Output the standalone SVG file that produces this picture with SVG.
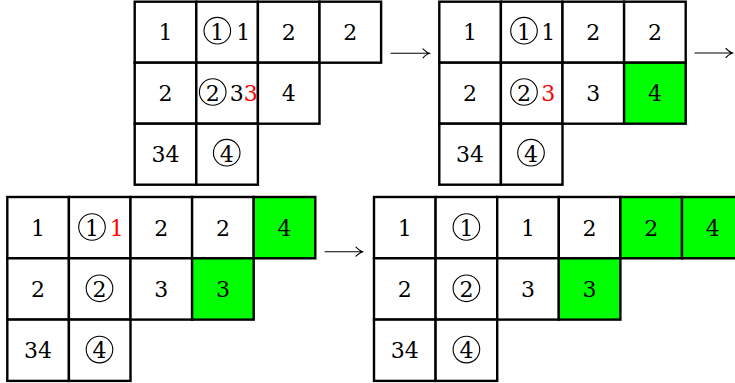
<svg xmlns="http://www.w3.org/2000/svg" width="735" height="383" viewBox="0 0 735 383">
<style>
.c{fill:#fff;stroke:#000;stroke-width:2.4}
.g{fill:#00ff00;stroke:#000;stroke-width:2.4}
.r{fill:#ff0000}
.o{fill:none;stroke:#000;stroke-width:1.1}
.a{fill:none;stroke:#000;stroke-width:1.1;stroke-linecap:round}
.t{font-family:'DejaVu Serif','Liberation Serif',serif;font-size:22px;text-anchor:middle}
</style>
<rect width="735" height="383" fill="#fff"/>
<g id="tableau1" class="t">
<rect class="c" x="134.7" y="1.7" width="61.6" height="61"/>
<rect class="c" x="196.3" y="1.7" width="61.6" height="61"/>
<rect class="c" x="257.9" y="1.7" width="61.6" height="61"/>
<rect class="c" x="319.5" y="1.7" width="61.6" height="61"/>
<rect class="c" x="134.7" y="62.7" width="61.6" height="61"/>
<rect class="c" x="196.3" y="62.7" width="61.6" height="61"/>
<rect class="c" x="257.9" y="62.7" width="61.6" height="61"/>
<rect class="c" x="134.7" y="123.7" width="61.6" height="61"/>
<rect class="c" x="196.3" y="123.7" width="61.6" height="61"/>
<text x="165.5" y="39.5">1</text>
<circle class="o" cx="217.3" cy="30.7" r="13.3"/><text x="217.3" y="39.5">1</text><text x="243.3" y="39.5">1</text>
<text x="288.7" y="39.5">2</text>
<text x="350.3" y="39.5">2</text>
<text x="165.5" y="100.5">2</text>
<circle class="o" cx="212.7" cy="92" r="13.3"/><text x="212.7" y="100.5">2</text><text x="236.7" y="100.5">3</text><text class="r" x="250.7" y="100.5">3</text>
<text x="288.7" y="100.5">4</text>
<text x="165.5" y="161.5">34</text>
<circle class="o" cx="226.7" cy="152.7" r="13.3"/><text x="226.7" y="161.5">4</text>
</g>
<g id="tableau2" class="t">
<rect class="c" x="439.3" y="1.7" width="61.6" height="61"/>
<rect class="c" x="500.9" y="1.7" width="61.6" height="61"/>
<rect class="c" x="562.5" y="1.7" width="61.6" height="61"/>
<rect class="c" x="624.1" y="1.7" width="61.6" height="61"/>
<rect class="c" x="439.3" y="62.7" width="61.6" height="61"/>
<rect class="c" x="500.9" y="62.7" width="61.6" height="61"/>
<rect class="c" x="562.5" y="62.7" width="61.6" height="61"/>
<rect class="g" x="624.1" y="62.7" width="61.6" height="61"/>
<rect class="c" x="439.3" y="123.7" width="61.6" height="61"/>
<rect class="c" x="500.9" y="123.7" width="61.6" height="61"/>
<text x="470.1" y="39.5">1</text>
<circle class="o" cx="524" cy="30.7" r="13.3"/><text x="524" y="39.5">1</text><text x="548.3" y="39.5">1</text>
<text x="593.3" y="39.5">2</text>
<text x="654.9" y="39.5">2</text>
<text x="470.1" y="100.5">2</text>
<circle class="o" cx="524" cy="92" r="13.3"/><text x="524" y="100.5">2</text><text class="r" x="548.3" y="100.5">3</text>
<text x="593.3" y="100.5">3</text>
<text x="654.9" y="100.5">4</text>
<text x="470.1" y="161.5">34</text>
<circle class="o" cx="531" cy="152.7" r="13.3"/><text x="531" y="161.5">4</text>
</g>
<g id="tableau3" class="t">
<rect class="c" x="7.3" y="197" width="61.6" height="61.3"/>
<rect class="c" x="68.9" y="197" width="61.6" height="61.3"/>
<rect class="c" x="130.5" y="197" width="61.6" height="61.3"/>
<rect class="c" x="192.1" y="197" width="61.6" height="61.3"/>
<rect class="g" x="253.7" y="197" width="61.6" height="61.3"/>
<rect class="c" x="7.3" y="258.3" width="61.6" height="61.3"/>
<rect class="c" x="68.9" y="258.3" width="61.6" height="61.3"/>
<rect class="c" x="130.5" y="258.3" width="61.6" height="61.3"/>
<rect class="g" x="192.1" y="258.3" width="61.6" height="61.3"/>
<rect class="c" x="7.3" y="319.6" width="61.6" height="61.3"/>
<rect class="c" x="68.9" y="319.6" width="61.6" height="61.3"/>
<text x="38.1" y="235.7">1</text>
<circle class="o" cx="92" cy="227" r="13.3"/><text x="92" y="235.7">1</text><text class="r" x="116.7" y="235.7">1</text>
<text x="161.3" y="235.7">2</text>
<text x="222.9" y="235.7">2</text>
<text x="284.5" y="235.7">4</text>
<text x="38.1" y="297">2</text>
<circle class="o" cx="99.5" cy="288.3" r="13.3"/><text x="99.5" y="297">2</text>
<text x="161.3" y="297">3</text>
<text x="222.9" y="297">3</text>
<text x="38.1" y="358.3">34</text>
<circle class="o" cx="99.5" cy="349.6" r="13.3"/><text x="99.5" y="358.3">4</text>
</g>
<g id="tableau4" class="t">
<rect class="c" x="374" y="197" width="61.6" height="61.3"/>
<rect class="c" x="435.6" y="197" width="61.6" height="61.3"/>
<rect class="c" x="497.2" y="197" width="61.6" height="61.3"/>
<rect class="c" x="558.8" y="197" width="61.6" height="61.3"/>
<rect class="g" x="620.4" y="197" width="61.6" height="61.3"/>
<rect class="g" x="682" y="197" width="61.6" height="61.3"/>
<rect class="c" x="374" y="258.3" width="61.6" height="61.3"/>
<rect class="c" x="435.6" y="258.3" width="61.6" height="61.3"/>
<rect class="c" x="497.2" y="258.3" width="61.6" height="61.3"/>
<rect class="g" x="558.8" y="258.3" width="61.6" height="61.3"/>
<rect class="c" x="374" y="319.6" width="61.6" height="61.3"/>
<rect class="c" x="435.6" y="319.6" width="61.6" height="61.3"/>
<text x="404.8" y="235.7">1</text>
<circle class="o" cx="466.4" cy="227" r="13.3"/><text x="466.4" y="235.7">1</text>
<text x="528" y="235.7">1</text>
<text x="589.6" y="235.7">2</text>
<text x="651.2" y="235.7">2</text>
<text x="712.8" y="235.7">4</text>
<text x="404.8" y="297">2</text>
<circle class="o" cx="466.4" cy="288.3" r="13.3"/><text x="466.4" y="297">2</text>
<text x="528" y="297">3</text>
<text x="589.6" y="297">3</text>
<text x="404.8" y="358.3">34</text>
<circle class="o" cx="466.4" cy="349.6" r="13.3"/><text x="466.4" y="358.3">4</text>
</g>
<g id="connectors">
<path class="a" d="M391,53.3 H430 M423,48.8 Q427,52.8 430,53.3 Q427,53.8 423,57.8"/>
<path class="a" d="M695,53 H733 M726,48.5 Q730,52.5 733,53 Q730,53.5 726,57.5"/>
<path class="a" d="M325,251.7 H363 M356,247.2 Q360,251.2 363,251.7 Q360,252.2 356,256.2"/>
</g>
</svg>
